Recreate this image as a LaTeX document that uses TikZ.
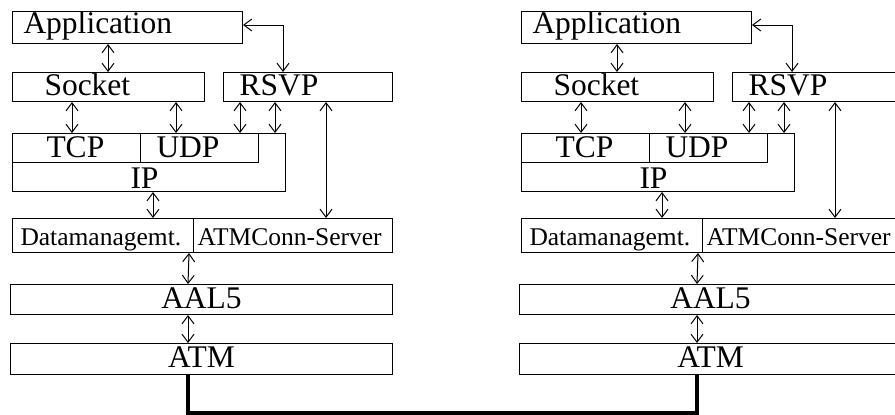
\documentclass[tikz,border=0pt]{standalone}
\usepackage{fontspec}
\setmainfont{Liberation Serif}
\usepackage{tikz}
\usetikzlibrary{arrows.meta}

\begin{document}
\begin{tikzpicture}[x=1pt,y=-1pt,
layer/.style={draw,anchor=north west,inner sep=0pt,align=left,
  font=\fontsize{31.5}{31.5}\selectfont},
small/.style={font=\fontsize{25.5}{25.5}\selectfont},
link/.style={<->,>={Straight Barb[length=8pt,width=12pt]}},
line width=1pt]
\useasboundingbox (0,0) rectangle (895,415);
\foreach \s/\dx in {l/0,r/509}{
\begin{scope}[xshift=\dx pt,name prefix=\s-]
\node[layer,inner xsep=11pt,text width=208pt,text height=22pt,text depth=10pt] (app) at (12,11) {Application};
\node[layer,inner xsep=32pt,text width=128pt,text height=23pt,text depth=6pt] (sock) at (12,72) {Socket};
\node[layer,inner xsep=16pt,text width=137pt,text height=23pt,text depth=6pt] (rsvp) at (223,72) {RSVP};
\node[layer,inner xsep=118pt,text width=37pt,text height=55pt,text depth=3pt] (ip) at (12,133) {IP};
\node[layer,inner xsep=34pt,text width=60pt,text height=24pt,text depth=5pt] (tcp) at (12,133) {TCP};
\node[layer,inner xsep=16pt,text width=86pt,text height=24pt,text depth=5pt] (udp) at (140,133) {UDP};
\node[layer,small,inner xsep=8pt,text width=165pt,text height=27pt,text depth=7pt] (data) at (12,218) {Datamanagemt.};
\node[layer,small,inner xsep=4pt,text width=191pt,text height=27pt,text depth=7pt] (conn) at (193,218) {ATMConn-Server};
\node[layer,align=center,text width=382pt,text height=24pt,text depth=6pt] (aal) at (10,284) {AAL5};
\node[layer,align=center,text width=382pt,text height=24pt,text depth=7pt] (atm) at (10,343) {ATM};
% service access points
\draw[link] ([xshift=96]app.south west) -- ([xshift=96]sock.north west);
\draw[link] ([xshift=60]sock.south west) -- ([xshift=60]tcp.north west);
\draw[link] ([xshift=164]sock.south west) -- ([xshift=36]udp.north west);
\draw[link] ([xshift=17]rsvp.south west) -- ([xshift=100]udp.north west);
\draw[link] ([xshift=52]rsvp.south west) -- ([xshift=263]ip.north west);
\draw[link] ([yshift=-14]app.north east) -| ([xshift=60]rsvp.north west);
\draw[link] ([xshift=103]rsvp.south west) -- ([xshift=133]conn.north west);
\draw[link] ([xshift=141]ip.south west) -- ([xshift=141]data.north west);
\draw[link] ([xshift=-5]data.south east) -- ([xshift=178]aal.north west);
\draw[link] ([xshift=178]aal.south west) -- ([xshift=178]atm.north west);
\end{scope}
}
% physical link
\draw[line width=4pt] ([xshift=178]l-atm.south west) -- ++(0,38) -| ([xshift=178]r-atm.south west);
\end{tikzpicture}
\end{document}
